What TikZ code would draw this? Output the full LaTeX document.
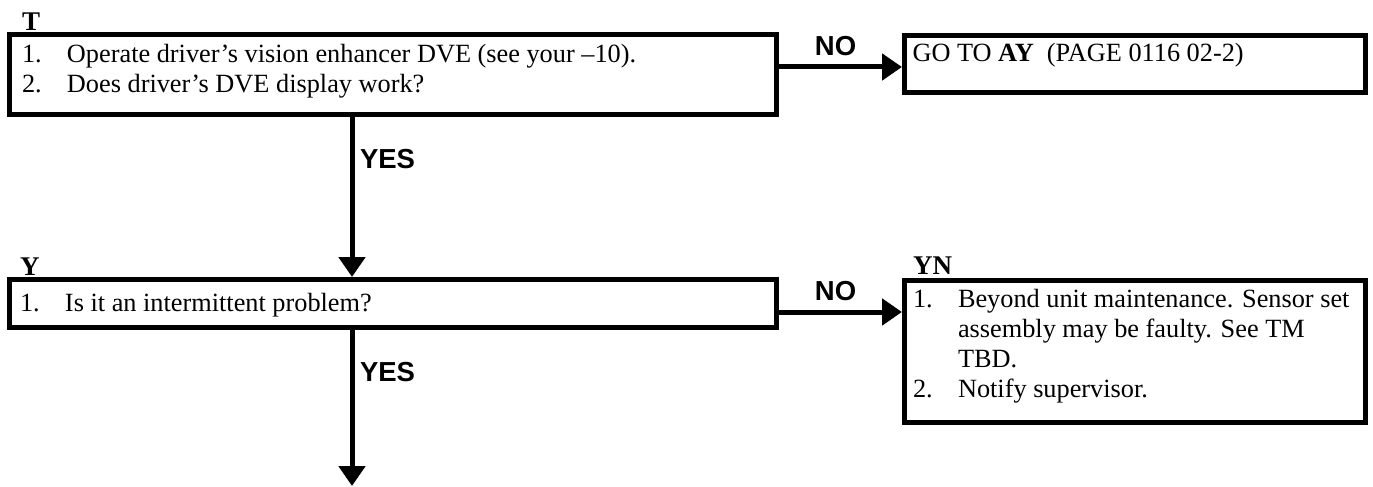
\documentclass[tikz,border=0pt]{standalone}
\usepackage{fontspec}
\setmainfont{Liberation Serif}
\setsansfont{Liberation Sans}
\usetikzlibrary{arrows.meta}

\newcommand{\itm}[2]{\par\hangindent=45pt\hangafter=1\noindent\strut\makebox[45pt][l]{#1}#2\par}
\newcommand{\stepbody}[4]{\parbox[t][#2][t]{#1}{\raggedright\vspace*{#3}#4}}
\newcommand{\brk}{\hfil\break}

\begin{document}
\begin{tikzpicture}[x=1pt,y=-1pt,
		box/.style={draw, line width=5pt, inner ysep=0pt, anchor=north west,
			font=\fontsize{26.3}{30}\selectfont},
		tag/.style={font=\bfseries\fontsize{27}{30}\selectfont, inner sep=0pt, anchor=base west},
		lbl/.style={font=\sffamily\bfseries\fontsize{27.5}{30}\selectfont, inner sep=0pt, outer sep=0pt},
		flow/.style={line width=5pt, -{Triangle[length=20pt,width=26pt]}}]
		\useasboundingbox (0,0) rectangle (1373,487);
		%% The Boxes
		\node[box, inner xsep=12.5pt] (t) at (7,32) {\stepbody{742pt}{80pt}{7.5pt}{%
				\itm{1.}{Operate driver’s vision enhancer DVE (see your –10).}%
				\itm{2.}{Does driver’s DVE display work?}}};
		\node[box, inner xsep=8pt] (go) at (902,33) {\stepbody{445pt}{57pt}{5.5pt}{%
				\strut GO TO \textbf{AY}\ \ (PAGE 0116 02-2)}};
		\node[box, inner xsep=10.5pt] (y) at (7,277) {\stepbody{746pt}{48pt}{10.5pt}{%
				\itm{1.}{Is it an intermittent problem?}}};
		\node[box, inner xsep=8.5pt] (yn) at (902,278) {\stepbody{444pt}{142pt}{5.5pt}{%
				\itm{1.}{Beyond unit maintenance. Sensor set\brk assembly may be faulty. See TM\brk TBD.}%
				\itm{2.}{Notify supervisor.}}};
		%% The Tags
		\node[tag] (tT) at ([xshift=15pt,yshift=1.5pt]t.north west) {T};
		\node[tag] (tY) at ([xshift=13pt,yshift=2pt]y.north west) {Y};
		\node[tag] (tYN) at ([xshift=11pt,yshift=4pt]yn.north west) {YN};
		%% The Arrows
		\coordinate (n1) at ([yshift=-3pt]go.west);
		\draw[flow] (t.east |- n1) -- node[lbl, above=11pt, pos=0.46] (no1) {NO} (n1);
		\coordinate (n2) at ([yshift=-8.5pt]y.east);
		\draw[flow] (n2) -- node[lbl, above=11pt, pos=0.46] (no2) {NO} (n2 -| yn.west);
		\coordinate (d1) at ([xshift=-41pt]t.south);
		\draw[flow] (d1) -- (d1 |- y.north);
		\coordinate (d2) at ([xshift=-41pt]y.south);
		\coordinate (bottom) at (352,486);
		\draw[flow] (d2) -- (d2 |- bottom);
		\node[lbl, anchor=base west] (yes1) at (360,168) {YES};
		\node[lbl, anchor=base west] (yes2) at (360,381) {YES};
	\end{tikzpicture}
\end{document}
